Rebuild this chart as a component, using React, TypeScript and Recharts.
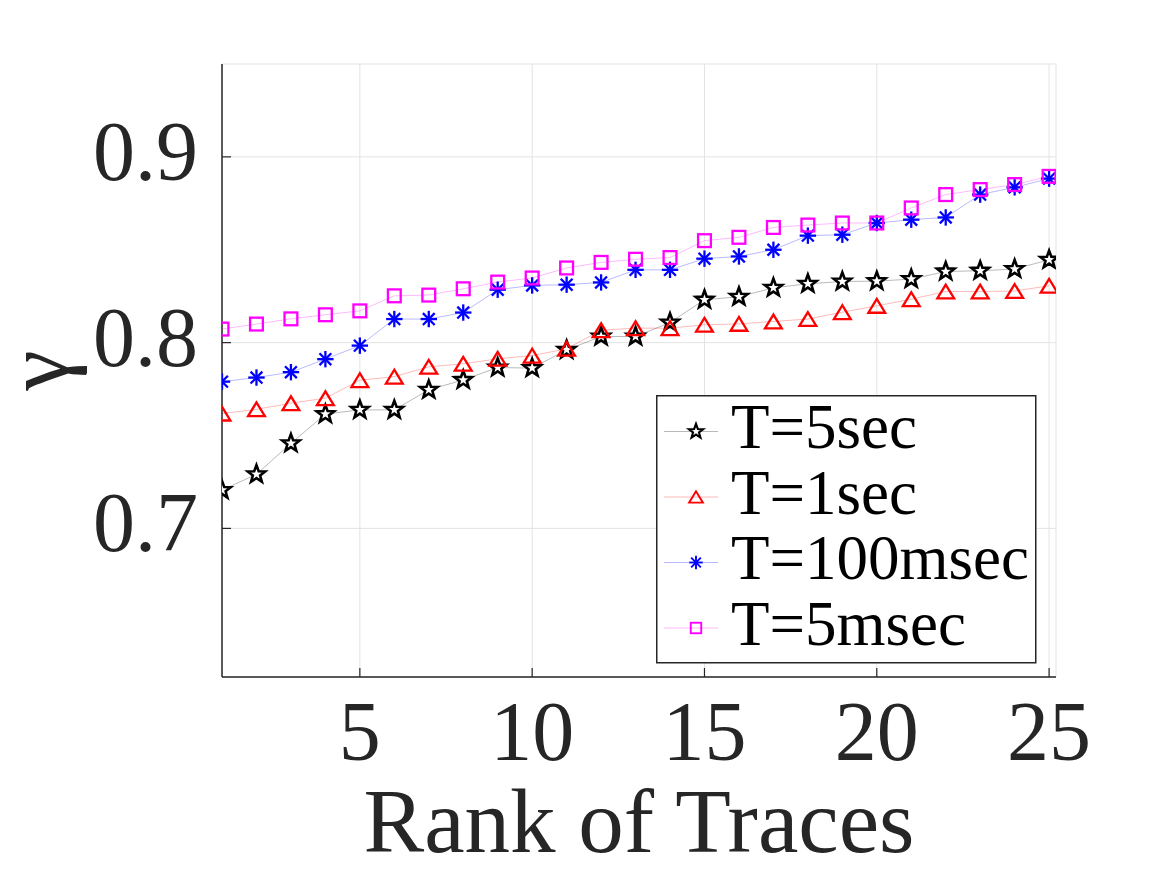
import { LineChart, Line, XAxis, YAxis, CartesianGrid } from "recharts";

// rank of traces (x) and gamma per sampling window
const ranks = [1, 2, 3, 4, 5, 6, 7, 8, 9, 10, 11, 12, 13, 14, 15, 16, 17, 18, 19, 20, 21, 22, 23, 24, 25];

const gamma5sec = [
  0.7206, 0.7291, 0.7458, 0.7615, 0.7638, 0.7638, 0.7746, 0.7799, 0.7866, 0.7863, 0.7961, 0.8033, 0.8033,
  0.8108, 0.8231, 0.8247, 0.8295, 0.8317, 0.8329, 0.8331, 0.8342, 0.8383, 0.8387, 0.8396, 0.8446,
];
const gamma1sec = [
  0.7618, 0.7641, 0.7674, 0.7701, 0.7798, 0.7817, 0.787, 0.7886, 0.7913, 0.793, 0.7967, 0.8067, 0.8078,
  0.8078, 0.8096, 0.8101, 0.8114, 0.8127, 0.8164, 0.8198, 0.8234, 0.8275, 0.8275, 0.8278, 0.8306,
];
const gamma100msec = [
  0.779, 0.7812, 0.7841, 0.7911, 0.7984, 0.8127, 0.8127, 0.8162, 0.8285, 0.8308, 0.8312, 0.8324, 0.8392,
  0.8392, 0.8452, 0.8464, 0.85, 0.8576, 0.8581, 0.8644, 0.8662, 0.8674, 0.8797, 0.8836, 0.8883,
];
const gamma5msec = [
  0.8073, 0.81, 0.8128, 0.815, 0.8171, 0.8252, 0.8256, 0.829, 0.8326, 0.8348, 0.8402, 0.8432, 0.8449,
  0.8458, 0.8549, 0.8567, 0.862, 0.8633, 0.8644, 0.8644, 0.8725, 0.8797, 0.8824, 0.8851, 0.8895,
];

const xTicks = [5, 10, 15, 20, 25];
const yTicks = [0.7, 0.8, 0.9];

type Shape = "star" | "triangle" | "asterisk" | "square";

const SERIES: { key: string; name: string; color: string; shape: Shape }[] = [
  { key: "t5sec", name: "T=5sec", color: "#000000", shape: "star" },
  { key: "t1sec", name: "T=1sec", color: "#ff0000", shape: "triangle" },
  { key: "t100msec", name: "T=100msec", color: "#0000ff", shape: "asterisk" },
  { key: "t5msec", name: "T=5msec", color: "#ff00ff", shape: "square" },
];

const data = ranks.map((rank, i) => ({
  rank,
  t5sec: gamma5sec[i],
  t1sec: gamma1sec[i],
  t100msec: gamma100msec[i],
  t5msec: gamma5msec[i],
}));

const AXIS = "#262626";
const FONT = "'Liberation Serif', 'Times New Roman', serif";
const W = 1167;
const H = 875;
const TICK_LEN = 9;

function Marker({ shape, cx, cy, color, s = 1 }: { shape: Shape; cx: number; cy: number; color: string; s?: number }) {
  if (shape === "star") {
    const pts: string[] = [];
    for (let k = 0; k < 10; k++) {
      const r = (k % 2 === 0 ? 9.2 : 3.8) * s;
      const a = -Math.PI / 2 + (k * Math.PI) / 5;
      pts.push(`${cx + r * Math.cos(a)},${cy + r * Math.sin(a)}`);
    }
    return <polygon points={pts.join(" ")} fill="#fff" stroke={color} strokeWidth={2.6 * s} strokeLinejoin="miter" />;
  }
  if (shape === "triangle") {
    const hw = 8.4 * s;
    const h = 6.9 * s;
    return (
      <polygon
        points={`${cx},${cy - h} ${cx - hw},${cy + h} ${cx + hw},${cy + h}`}
        fill="none"
        stroke={color}
        strokeWidth={2.3 * s}
      />
    );
  }
  if (shape === "asterisk") {
    const r = 8.2 * s;
    const d = r * 0.72;
    return (
      <g stroke={color} strokeWidth={2.3 * s}>
        <line x1={cx} y1={cy - r} x2={cx} y2={cy + r} />
        <line x1={cx - r} y1={cy} x2={cx + r} y2={cy} />
        <line x1={cx - d} y1={cy - d} x2={cx + d} y2={cy + d} />
        <line x1={cx - d} y1={cy + d} x2={cx + d} y2={cy - d} />
      </g>
    );
  }
  const hs = 6.4 * s;
  return <rect x={cx - hs} y={cy - hs} width={hs * 2} height={hs * 2} fill="none" stroke={color} strokeWidth={2.3 * s} />;
}

const makeDot = (shape: Shape, color: string) => (props: any) => {
  const { cx, cy, index } = props;
  return (
    <g key={`${shape}-${index}`}>
      <Marker shape={shape} cx={cx} cy={cy} color={color} />
    </g>
  );
};

// bottom axis: inward tick plus label underneath
const BottomTick = (props: any) => {
  const { x, y, payload } = props;
  return (
    <g>
      <line x1={x} y1={y} x2={x} y2={y - TICK_LEN} stroke={AXIS} strokeWidth={1.2} />
      <text x={x} y={y + 83} textAnchor="middle" fontFamily={FONT} fontSize={84} fill={AXIS}>
        {payload.value}
      </text>
    </g>
  );
};

const LeftTick = (props: any) => {
  const { x, y, payload } = props;
  return (
    <g>
      <line x1={x} y1={y} x2={x + TICK_LEN} y2={y} stroke={AXIS} strokeWidth={1.2} />
      <text x={x - 24} y={y + 23} textAnchor="end" fontFamily={FONT} fontSize={84} fill={AXIS}>
        {payload.value.toFixed(1)}
      </text>
    </g>
  );
};

const TopTick = (props: any) => {
  const { x, y } = props;
  return <line x1={x} y1={y} x2={x} y2={y + TICK_LEN} stroke={AXIS} strokeWidth={1.2} />;
};

const RightTick = (props: any) => {
  const { x, y } = props;
  return <line x1={x} y1={y} x2={x - TICK_LEN} y2={y} stroke={AXIS} strokeWidth={1.2} />;
};

// y label, turned to read bottom-to-top
const GammaLabel = (props: any) => {
  const { x, y, height } = props.viewBox;
  const lx = x + 68;
  const ly = y + height / 2;
  return (
    <g transform={`translate(${lx} ${ly}) rotate(-90)`}>
      <text x={0} y={0} textAnchor="middle" fontFamily={FONT} fontSize={91} fill={AXIS}>
        γ
      </text>
    </g>
  );
};

const RankLabel = (props: any) => {
  const { x, y, width } = props.viewBox;
  return (
    <text x={x + width / 2} y={y + 175} textAnchor="middle" fontFamily={FONT} fontSize={91} fill={AXIS}>
      Rank of Traces
    </text>
  );
};

function LegendBox() {
  const rowGap = 65.5;
  return (
    <svg width={381} height={269} style={{ position: "absolute", left: 656, top: 395 }}>
      <rect x={0.75} y={0.75} width={379} height={267} fill="#fff" stroke={AXIS} strokeWidth={1.5} />
      {SERIES.map((s, i) => {
        const my = 36.5 + rowGap * i;
        return (
          <g key={s.key}>
            <line x1={8} y1={my} x2={62} y2={my} stroke={s.color} strokeOpacity={0.35} strokeWidth={0.8} />
            <Marker shape={s.shape} cx={40} cy={my} color={s.color} s={0.82} />
            <text x={75} y={53 + rowGap * i} fontFamily={FONT} fontSize={63} fill="#000">
              {s.name}
            </text>
          </g>
        );
      })}
    </svg>
  );
}

export default function App() {
  return (
    <div style={{ position: "absolute", left: 0, top: 0, width: W, height: H, background: "#fff" }}>
      <LineChart width={W} height={H} data={data} margin={{ top: 64, right: 111, bottom: 0, left: 0 }}>
        <CartesianGrid stroke="#e3e3e3" strokeWidth={1} />
        <XAxis
          dataKey="rank"
          type="number"
          domain={[1, 25.2]}
          allowDataOverflow
          ticks={xTicks}
          interval={0}
          height={198}
          tickSize={0}
          tickMargin={0}
          tickLine={false}
          axisLine={{ stroke: AXIS, strokeWidth: 1.5 }}
          tick={<BottomTick />}
          label={{ content: RankLabel }}
        />
        <XAxis
          xAxisId="top"
          orientation="top"
          dataKey="rank"
          type="number"
          domain={[1, 25.2]}
          allowDataOverflow
          ticks={xTicks}
          interval={0}
          height={0}
          tickSize={0}
          tickMargin={0}
          tickLine={false}
          axisLine={{ stroke: AXIS, strokeWidth: 1.5 }}
          tick={<TopTick />}
        />
        <YAxis
          type="number"
          domain={[0.62, 0.95]}
          allowDataOverflow
          ticks={yTicks}
          interval={0}
          width={222}
          tickSize={0}
          tickMargin={0}
          tickLine={false}
          axisLine={{ stroke: AXIS, strokeWidth: 1.5 }}
          tick={<LeftTick />}
          label={{ content: GammaLabel }}
        />
        <YAxis
          yAxisId="right"
          orientation="right"
          type="number"
          domain={[0.62, 0.95]}
          allowDataOverflow
          ticks={yTicks}
          interval={0}
          width={0}
          tickSize={0}
          tickMargin={0}
          tickLine={false}
          axisLine={{ stroke: AXIS, strokeWidth: 1.5 }}
          tick={<RightTick />}
        />
        {SERIES.map((s) => (
          <Line
            key={s.key}
            type="linear"
            dataKey={s.key}
            name={s.name}
            stroke={s.color}
            strokeOpacity={0.35}
            strokeWidth={0.8}
            dot={makeDot(s.shape, s.color)}
            activeDot={false}
            isAnimationActive={false}
          />
        ))}
      </LineChart>
      <LegendBox />
    </div>
  );
}
